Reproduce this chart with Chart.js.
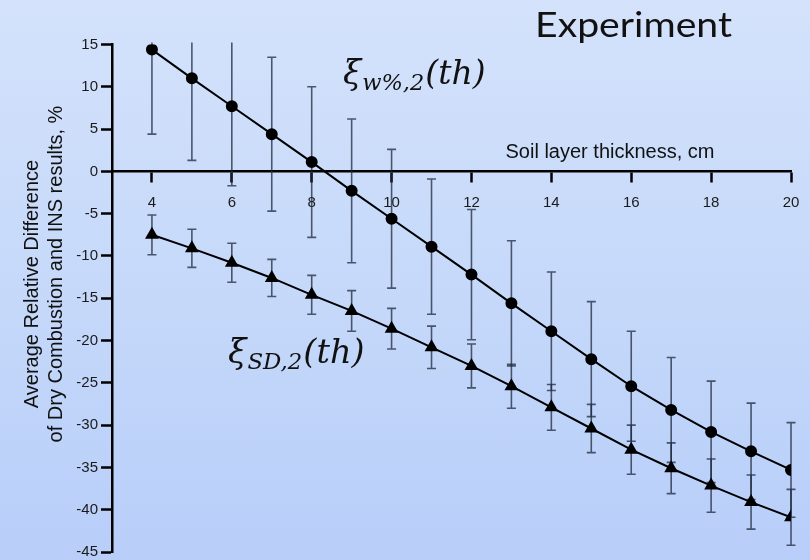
<!DOCTYPE html>
<html lang="en">
<head>
    <meta charset="UTF-8">
    <title>Soil layer thickness - relative difference</title>
    <script src="https://cdn.jsdelivr.net/npm/chart.js"></script>
    <style>
        html, body { margin: 0; padding: 0; }
        body {
            width: 810px; height: 560px; overflow: hidden;
            background: linear-gradient(to bottom, #d4e2fb 0%, #c6d9fa 50%, #b8cef9 100%);
        }
        canvas { display: block; }
    </style>
</head>
<body>
    <canvas id="chart" width="810" height="560"></canvas>
</body>

<script>
// ---------------- data ----------------
const thickness = [4, 5, 6, 7, 8, 9, 10, 11, 12, 13, 14, 15, 16, 17, 18, 19, 20];

// xi w%,2 (circles)
const xiW    = [14.4, 11.0, 7.7, 4.4, 1.1, -2.3, -5.6, -8.9, -12.2, -15.6, -18.9, -22.2, -25.4, -28.2, -30.8, -33.1, -35.3];
const xiWErr = [10.0, 9.7, 9.4, 9.1, 8.9, 8.5, 8.2, 8.0, 7.7, 7.4, 7.0, 6.8, 6.5, 6.2, 6.0, 5.7, 5.6];

// xi SD,2 (triangles)
const xiSD    = [-7.5, -9.1, -10.8, -12.6, -14.6, -16.5, -18.6, -20.8, -23.0, -25.4, -27.9, -30.4, -32.9, -35.1, -37.15, -39.1, -40.9];
const xiSDErr = [2.35, 2.25, 2.3, 2.2, 2.3, 2.4, 2.4, 2.5, 2.6, 2.6, 2.7, 2.85, 2.9, 3.0, 3.15, 3.2, 3.3];

const yTicks = [-45, -40, -35, -30, -25, -20, -15, -10, -5, 0, 5, 10, 15];
const xTicks = [4, 6, 8, 10, 12, 14, 16, 18, 20];

const xTitle = 'Soil layer thickness, cm';
const yTitle = ['Average Relative Difference', 'of Dry Combustion and INS results, %'];
const heading = 'Experiment';

function toPoints(xs, ys) {
    return xs.map((x, i) => ({ x: x, y: ys[i] }));
}

// error bars drawn from the data through the scales
const errorBars = {
    id: 'errorBars',
    beforeDatasetsDraw(chart) {
        const { ctx, chartArea, scales } = chart;
        const sets = [[xiW, xiWErr], [xiSD, xiSDErr]];
        ctx.save();
        ctx.beginPath();
        ctx.rect(chartArea.left, chartArea.top - 2, chartArea.width + 10, chartArea.height + 2);
        ctx.clip();
        ctx.strokeStyle = 'rgba(30, 40, 60, 0.75)';
        ctx.lineWidth = 1.6;
        sets.forEach(([vals, errs]) => {
            vals.forEach((v, i) => {
                const px = scales.x.getPixelForValue(thickness[i]);
                const top = scales.y.getPixelForValue(v + errs[i]);
                const bot = scales.y.getPixelForValue(v - errs[i]);
                ctx.beginPath();
                ctx.moveTo(px, top); ctx.lineTo(px, bot);
                ctx.moveTo(px - 4.5, top); ctx.lineTo(px + 4.5, top);
                ctx.moveTo(px - 4.5, bot); ctx.lineTo(px + 4.5, bot);
                ctx.stroke();
            });
        });
        ctx.restore();
    }
};

// formula label: xi with subscript and (th), sized to a given width
function drawXi(ctx, x, y, sub, width) {
    const parts = [['ξ', 1, 0], [sub, 0.68, 6], ['(th)', 1, 0]];
    const measure = size => parts.reduce((w, p) => {
        ctx.font = 'italic ' + (size * p[1]) + 'px "DejaVu Serif"';
        return w + ctx.measureText(p[0]).width + 1;
    }, 0);
    const size = 30 * width / measure(30);
    parts.forEach(p => {
        ctx.font = 'italic ' + (size * p[1]) + 'px "DejaVu Serif"';
        ctx.fillText(p[0], x, y + p[2]);
        x += ctx.measureText(p[0]).width + 1;
    });
}

const labels = {
    id: 'labels',
    afterDraw(chart) {
        const ctx = chart.ctx;
        ctx.save();
        ctx.fillStyle = '#111';
        ctx.textBaseline = 'alphabetic';

        // heading, stretched to its width
        ctx.font = '35px Lato';
        ctx.textAlign = 'left';
        const hw = ctx.measureText(heading).width;
        ctx.save();
        ctx.translate(535, 37);
        ctx.scale(197 / hw, 1);
        ctx.fillText(heading, 0, 0);
        ctx.restore();

        drawXi(ctx, 343, 84, 'w%,2', 144);
        drawXi(ctx, 228, 363, 'SD,2', 138);

        ctx.font = '20px "Liberation Sans"';
        ctx.textAlign = 'center';
        ctx.fillText(xTitle, 610, 158);

        ctx.rotate(-Math.PI / 2);
        ctx.font = '20px "Liberation Sans"';
        ctx.fillText(yTitle[0], -284, 38);
        ctx.fillText(yTitle[1], -274, 62);
        ctx.restore();
    }
};

const ctxChart = document.getElementById('chart');
new Chart(ctxChart, {
    type: 'line',
    data: {
        datasets: [{
            label: 'xi w%,2',
            data: toPoints(thickness, xiW),
            borderColor: '#000',
            backgroundColor: '#000',
            borderWidth: 2,
            pointStyle: 'circle',
            pointRadius: 5,
            pointHoverRadius: 5,
            tension: 0
        },
        {
            label: 'xi SD,2',
            data: toPoints(thickness, xiSD),
            borderColor: '#000',
            backgroundColor: '#000',
            borderWidth: 2,
            pointStyle: 'triangle',
            pointRadius: 6,
            pointHoverRadius: 6,
            tension: 0
        }]
    },
    options: {
        responsive: false,
        animation: false,
        layout: { padding: { top: 44.5, right: 19, bottom: 5, left: 0 } },
        plugins: {
            legend: { display: false },
            tooltip: { enabled: false }
        },
        scales: {
            x: {
                type: 'linear',
                position: { y: 0 },
                min: 3,
                max: 20,
                afterBuildTicks(scale) {
                    scale.ticks = xTicks.map(v => ({ value: v }));
                },
                afterFit(scale) {
                    scale.height = 0;
                    scale.paddingLeft = 0;
                    scale.paddingRight = 0;
                },
                border: { display: true, color: '#000', width: 2.5 },
                grid: { drawOnChartArea: false, drawTicks: true, tickLength: 10, tickWidth: 2.5, tickColor: '#000' },
                ticks: { color: '#1a1a1a', padding: 12, font: { family: 'Liberation Sans', size: 15 } }
            },
            y: {
                type: 'linear',
                min: -45,
                max: 15,
                afterBuildTicks(scale) {
                    scale.ticks = yTicks.map(v => ({ value: v }));
                },
                afterFit(scale) {
                    scale.width = 112;
                    scale.paddingTop = 0;
                    scale.paddingBottom = 0;
                },
                border: { display: true, color: '#000', width: 2.5 },
                grid: { drawOnChartArea: false, drawTicks: true, tickLength: 11, tickWidth: 2.5, tickColor: '#000' },
                ticks: { color: '#1a1a1a', padding: 3, font: { family: 'Liberation Sans', size: 15 } }
            }
        }
    },
    plugins: [errorBars, labels]
});
</script>
</html>
